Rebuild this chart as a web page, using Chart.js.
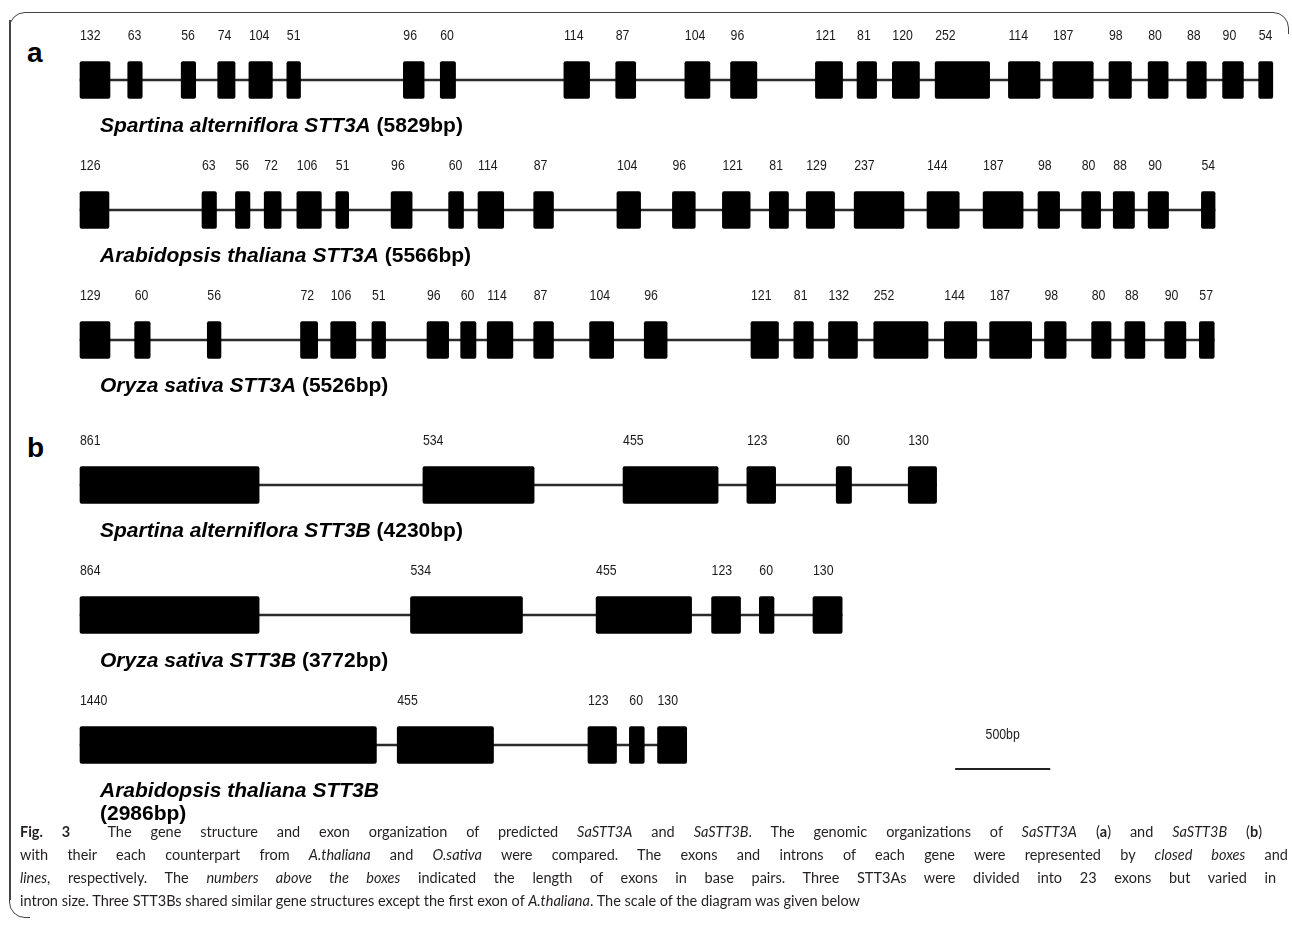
<!DOCTYPE html>
<html>
<head>
<meta charset="utf-8">
<script src="https://cdn.jsdelivr.net/npm/chart.js@4.4.1/dist/chart.umd.min.js"></script>
<style>
  html, body { margin:0; padding:0; background:#fff; }
  body { width:1292px; height:943px; position:relative; overflow:hidden; font-family:"Liberation Sans", Arial, sans-serif; }
  .frame { position:absolute; left:9px; top:12px; width:1280px; height:906px; border:1.5px solid #444; border-radius:16px; box-sizing:border-box; }
  .mask { position:absolute; left:30px; top:34px; width:1300px; height:950px; background:#fff; }
  .frame-left { position:absolute; left:9px; top:20px; width:1.5px; height:880px; background:#444; }
  .chartbox { position:absolute; left:0; width:1292px; }
  .letter { position:absolute; font:bold 28px "Liberation Sans", Arial, sans-serif; line-height:28px; color:#000; }
  .caption { position:absolute; left:20px; top:820px; font-family:Lato, "Open Sans", sans-serif; font-size:15.5px; line-height:23px; color:#231f20; }
  .caption .ln { display:block; white-space:nowrap; transform-origin:0 50%; width:max-content; }
</style>
</head>
<body>
<div class="frame"></div>
<div class="mask"></div>
<div class="frame-left"></div>
<div class="letter" style="left:27px; top:39px;">a</div>
<div class="letter" style="left:27px; top:434px;">b</div>
<div class="chartbox" style="top:15px; height:390px;"><canvas id="chartA"></canvas></div>
<div class="chartbox" style="top:420px; height:420px;"><canvas id="chartB"></canvas></div>
<div class="caption" id="caption">
  <span class="ln"><b>Fig. 3</b>&nbsp; The gene structure and exon organization of predicted <i>SaSTT3A</i> and <i>SaSTT3B</i>. The genomic organizations of <i>SaSTT3A</i> (<b>a</b>) and <i>SaSTT3B</i> (<b>b</b>)</span>
  <span class="ln">with their each counterpart from <i>A.thaliana</i> and <i>O.sativa</i> were compared. The exons and introns of each gene were represented by <i>closed boxes</i> and</span>
  <span class="ln"><i>lines</i>, respectively. The <i>numbers above the boxes</i> indicated the length of exons in base pairs. Three STT3As were divided into 23 exons but varied in</span>
  <span class="ln">intron size. Three STT3Bs shared similar gene structures except the first exon of <i>A.thaliana</i>. The scale of the diagram was given below</span>
</div>
<script>
// ---------------- DATA (positions in bp along each gene) ----------------
// Panel a : STT3A genes
const speciesA = ['Spartina alterniflora', 'Arabidopsis thaliana', 'Oryza sativa'];
const geneA = ['STT3A', 'STT3A', 'STT3A'];
const totalA = [5829, 5566, 5526];

const saSTT3A_len   = [132,63,56,74,104,51,96,60,114,87,104,96,121,81,120,252,114,187,98,80,88,90,54];
const saSTT3A_start = [0,234,496,675,828,1014,1585,1766,2372,2626,2965,3189,3605,3809,3982,4192,4551,4769,5044,5236,5426,5601,5778];
const saSTT3A_end   = [147,305,567,760,943,1081,1687,1841,2498,2724,3088,3318,3738,3905,4115,4459,4706,4967,5154,5334,5521,5703,5847];

const atSTT3A_len   = [126,63,56,72,106,51,96,60,114,87,104,96,121,81,129,237,144,187,98,80,88,90,54];
const atSTT3A_start = [0,598,762,903,1063,1254,1525,1807,1951,2224,2632,2904,3149,3379,3560,3795,4152,4427,4696,4910,5065,5236,5497];
const atSTT3A_end   = [142,669,833,986,1183,1317,1628,1880,2077,2321,2748,3016,3285,3473,3699,4039,4310,4623,4802,5003,5169,5336,5564];

const osSTT3A_len   = [129,60,56,72,106,51,96,60,114,87,104,96,121,81,132,252,144,187,98,80,88,90,57];
const osSTT3A_start = [0,268,624,1081,1229,1431,1701,1866,1996,2224,2498,2766,3289,3499,3669,3891,4237,4459,4728,4959,5122,5317,5487];
const osSTT3A_end   = [147,344,691,1165,1352,1498,1807,1941,2122,2321,2616,2878,3424,3595,3811,4157,4396,4665,4834,5054,5220,5421,5560];

// Panel b : STT3B genes
const speciesB = ['Spartina alterniflora', 'Oryza sativa', 'Arabidopsis thaliana'];
const geneB = ['STT3B', 'STT3B', 'STT3B'];
const totalB = [4230, 3772, 2986];

const saSTT3B_len   = [861,534,455,123,60,130];
const saSTT3B_start = [0,1681,2662,3269,3707,4060];
const saSTT3B_end   = [878,2226,3128,3410,3782,4199];

const osSTT3B_len   = [864,534,455,123,60,130];
const osSTT3B_start = [0,1620,2530,3096,3330,3593];
const osSTT3B_end   = [878,2169,2998,3238,3402,3736];

const atSTT3B_len   = [1440,455,123,60,130];
const atSTT3B_start = [0,1555,2490,2693,2831];
const atSTT3B_end   = [1453,2027,2630,2766,2974];

// Scale bar (bp units along the same axis)
const scaleBarLabel = '500bp';
const scaleBarStart = 4290;
const scaleBarEnd   = 4756;

// ---------------- BUILD ----------------
const X_PX_PER_BP = 0.204;
const X_ORIGIN_PX = 80;
const X_MIN = -X_ORIGIN_PX / X_PX_PER_BP;
const X_MAX = X_MIN + 1292 / X_PX_PER_BP;
const BOX_H = 37;

function track(key, species, gene, total, len, starts, ends) {
  return { key, species, gene, total, len, starts, ends };
}
const tracksA = [
  track('SaA', speciesA[0], geneA[0], totalA[0], saSTT3A_len, saSTT3A_start, saSTT3A_end),
  track('AtA', speciesA[1], geneA[1], totalA[1], atSTT3A_len, atSTT3A_start, atSTT3A_end),
  track('OsA', speciesA[2], geneA[2], totalA[2], osSTT3A_len, osSTT3A_start, osSTT3A_end)
];
const tracksB = [
  track('SaB', speciesB[0], geneB[0], totalB[0], saSTT3B_len, saSTT3B_start, saSTT3B_end),
  track('OsB', speciesB[1], geneB[1], totalB[1], osSTT3B_len, osSTT3B_start, osSTT3B_end),
  track('AtB', speciesB[2], geneB[2], totalB[2], atSTT3B_len, atSTT3B_start, atSTT3B_end)
];

const geneText = {
  id: 'geneText',
  afterDatasetsDraw(chart, args, o) {
    const ctx = chart.ctx, xs = chart.scales.x, ys = chart.scales.y;
    ctx.save();
    o.tracks.forEach((t, r) => {
      const cy = ys.getPixelForValue(r);
      // exon length labels
      ctx.fillStyle = '#1a1a1a';
      ctx.font = '15px "Liberation Sans", Arial, sans-serif';
      ctx.textAlign = 'left';
      ctx.textBaseline = 'alphabetic';
      t.len.forEach((v, i) => {
        const px = xs.getPixelForValue(t.starts[i]);
        ctx.save();
        ctx.translate(px, cy - BOX_H / 2 - o.labelGap);
        ctx.scale(0.82, 1);
        ctx.fillText(String(v), 0, 0);
        ctx.restore();
      });
      // species / gene name
      const x0 = xs.getPixelForValue(t.starts[0]) + 20;
      const by = cy + BOX_H / 2 + o.nameGap;
      ctx.fillStyle = '#000';
      ctx.font = 'italic bold 21px "Liberation Sans", Arial, sans-serif';
      const nm = t.species + ' ' + t.gene;
      ctx.fillText(nm, x0, by);
      const w = ctx.measureText(nm + ' ').width;
      ctx.font = 'bold 21px "Liberation Sans", Arial, sans-serif';
      const bp = '(' + t.total + 'bp)';
      if (o.wrap && o.wrap.includes(r)) ctx.fillText(bp, x0, by + 23);
      else ctx.fillText(bp, x0 + w, by);
    });
    if (o.scaleBar) {
      const sb = o.scaleBar;
      const cy = ys.getPixelForValue(sb.track);
      const a = xs.getPixelForValue(sb.start), b = xs.getPixelForValue(sb.end);
      ctx.strokeStyle = '#222';
      ctx.lineWidth = 2;
      ctx.beginPath();
      ctx.moveTo(a, cy + 24); ctx.lineTo(b, cy + 24);
      ctx.stroke();
      ctx.fillStyle = '#1a1a1a';
      ctx.font = '15px "Liberation Sans", Arial, sans-serif';
      ctx.save();
      ctx.translate((a + b) / 2, cy - 6);
      ctx.scale(0.82, 1);
      ctx.textAlign = 'center';
      ctx.fillText(sb.label, 0, 0);
      ctx.restore();
    }
    ctx.restore();
  }
};

function makeChart(id, tracks, extra, padBottom) {
  const exons = [], introns = [];
  tracks.forEach(t => {
    introns.push({ y: t.key, x: [t.starts[0], t.ends[t.ends.length - 1]] });
    t.starts.forEach((s, i) => exons.push({ y: t.key, x: [s, t.ends[i]] }));
  });
  return new Chart(document.getElementById(id), {
    type: 'bar',
    data: {
      labels: tracks.map(t => t.key),
      datasets: [
        { label: 'exons', data: exons, backgroundColor: '#000', barThickness: BOX_H, grouped: false, borderRadius: 2, borderSkipped: false, order: 1 },
        { label: 'introns', data: introns, backgroundColor: '#2b2b2b', barThickness: 2, grouped: false, order: 2 }
      ]
    },
    options: {
      indexAxis: 'y',
      responsive: true,
      maintainAspectRatio: false,
      animation: false,
      layout: { padding: { top: 0, left: 0, right: 0, bottom: padBottom } },
      plugins: {
        legend: { display: false },
        tooltip: { enabled: false },
        geneText: Object.assign({ tracks, labelGap: 22, nameGap: 33 }, extra)
      },
      scales: {
        x: { type: 'linear', min: X_MIN, max: X_MAX, display: false },
        y: { type: 'category', display: false, offset: true, grid: { display: false } }
      }
    },
    plugins: [geneText]
  });
}

makeChart('chartA', tracksA, {}, 0);
makeChart('chartB', tracksB, {
  wrap: [2],
  scaleBar: { track: 2, start: scaleBarStart, end: scaleBarEnd, label: scaleBarLabel }
}, 30);

// caption: justified lines (last line natural width), condensed horizontally
const lines = Array.from(document.querySelectorAll('#caption .ln'));
const targets = [1242, 1268, 1256, 840];
const nat = lines.map(l => l.getBoundingClientRect().width);
const k = targets[3] / nat[3];
lines.forEach((l, i) => {
  if (i < 3) {
    const spaces = (l.textContent.trim().match(/[ \u00a0]/g) || []).length;
    l.style.wordSpacing = ((targets[i] / k - nat[i]) / spaces) + 'px';
  }
  l.style.transform = 'scaleX(' + k + ')';
});
</script>
</body>
</html>
